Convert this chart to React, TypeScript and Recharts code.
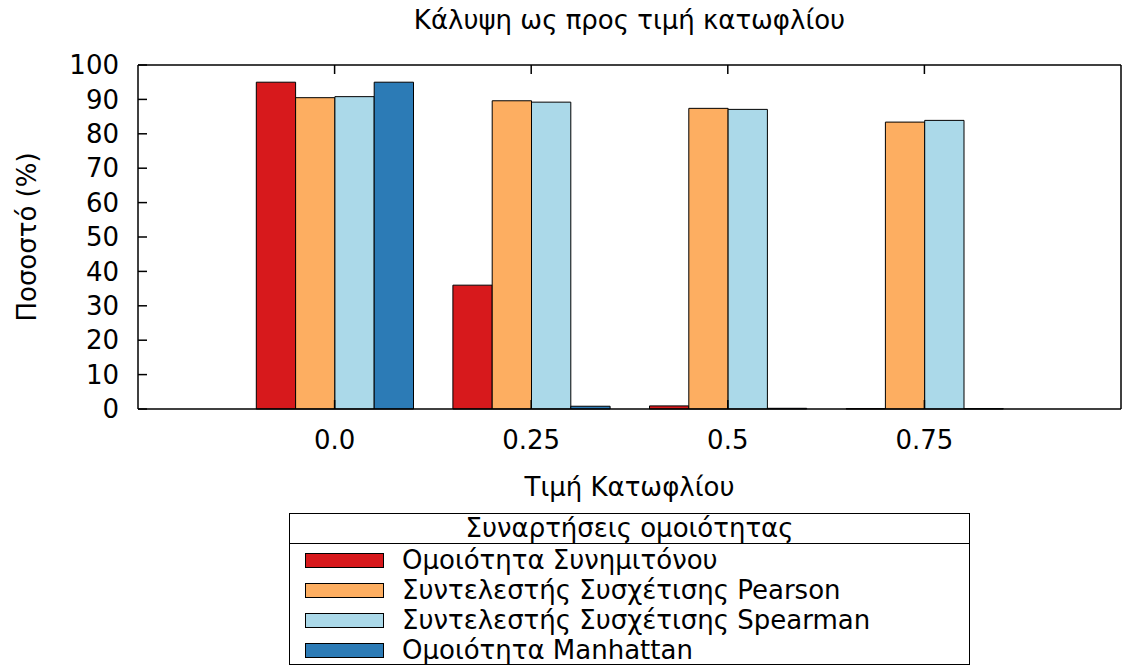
import { BarChart, Bar, XAxis, YAxis } from "recharts";

const THRESHOLDS = ["0.0", "0.25", "0.5", "0.75"];

const COSINE = [95.0, 36.0, 0.9, 0.1];
const PEARSON = [90.5, 89.6, 87.4, 83.4];
const SPEARMAN = [90.8, 89.2, 87.1, 83.9];
const MANHATTAN = [95.0, 0.8, 0.2, 0.1];

const Y_TICKS = [0, 10, 20, 30, 40, 50, 60, 70, 80, 90, 100];

const SERIES = [
  { key: "cosine", name: "Ομοιότητα Συνημιτόνου", color: "#d7191c", values: COSINE },
  { key: "pearson", name: "Συντελεστής Συσχέτισης Pearson", color: "#fdae61", values: PEARSON },
  { key: "spearman", name: "Συντελεστής Συσχέτισης Spearman", color: "#abd9e9", values: SPEARMAN },
  { key: "manhattan", name: "Ομοιότητα Manhattan", color: "#2c7bb6", values: MANHATTAN },
];

const data = THRESHOLDS.map((threshold, i) => {
  const row: Record<string, string | number> = { threshold };
  SERIES.forEach((s) => {
    row[s.key] = s.values[i];
  });
  return row;
});

const FONT = "'DejaVu Sans', sans-serif";
const FONT_SIZE = 26;
const TICK_STYLE = { fill: "#000", fontSize: FONT_SIZE, fontFamily: FONT };
const AXIS_LINE = { stroke: "#000", strokeWidth: 1.5 };

function LegendBox() {
  return (
    <div
      style={{
        position: "absolute",
        left: 289,
        top: 513,
        width: 681,
        height: 152,
        boxSizing: "border-box",
        border: "1px solid #000",
        fontFamily: FONT,
        fontSize: FONT_SIZE,
        color: "#000",
        background: "#fff",
      }}
    >
      <div
        style={{
          height: 29,
          lineHeight: "29px",
          textAlign: "center",
          borderBottom: "1px solid #000",
        }}
      >
        Συναρτήσεις ομοιότητας
      </div>
      <div style={{ paddingTop: 1 }}>
        {SERIES.map((s) => (
          <div
            key={s.key}
            style={{ height: 30, display: "flex", alignItems: "center" }}
          >
            <div
              style={{
                marginLeft: 15,
                width: 79,
                height: 15,
                boxSizing: "border-box",
                border: "1px solid #000",
                background: s.color,
              }}
            />
            <span style={{ marginLeft: 18, lineHeight: "30px" }}>{s.name}</span>
          </div>
        ))}
      </div>
    </div>
  );
}

export default function App() {
  return (
    <div
      style={{
        position: "fixed",
        left: 0,
        top: 0,
        width: 1124,
        height: 666,
        background: "#fff",
        fontFamily: FONT,
      }}
    >
      <div
        style={{
          position: "absolute",
          left: 138,
          top: 7,
          width: 983,
          textAlign: "center",
          fontSize: FONT_SIZE,
          lineHeight: `${FONT_SIZE}px`,
          color: "#000",
        }}
      >
        Κάλυψη ως προς τιμή κατωφλίου
      </div>
      <BarChart
        width={1124}
        height={666}
        data={data}
        margin={{ top: 60, right: 0, bottom: 157, left: 0 }}
        barGap={0}
        barSize={39.3}
      >
        <XAxis
          dataKey="threshold"
          height={100}
          padding={{ left: 98.3, right: 98.3 }}
          tickSize={-9}
          tickMargin={31}
          tick={TICK_STYLE}
          tickLine={AXIS_LINE}
          axisLine={AXIS_LINE}
          label={{
            value: "Τιμή Κατωφλίου",
            position: "insideBottom",
            offset: 13,
            fill: "#000",
            fontSize: FONT_SIZE,
            fontFamily: FONT,
          }}
        />
        <XAxis
          xAxisId="top"
          dataKey="threshold"
          orientation="top"
          height={5}
          padding={{ left: 98.3, right: 98.3 }}
          tickSize={-9}
          tickFormatter={() => ""}
          tickLine={AXIS_LINE}
          axisLine={AXIS_LINE}
        />
        <YAxis
          width={138}
          domain={[0, 100]}
          ticks={Y_TICKS}
          interval={0}
          tickSize={-9}
          tickMargin={28}
          tick={TICK_STYLE}
          tickLine={AXIS_LINE}
          axisLine={AXIS_LINE}
          label={{
            value: "Ποσοστό (%)",
            angle: -90,
            position: "insideLeft",
            offset: 27,
            fill: "#000",
            fontSize: FONT_SIZE,
            fontFamily: FONT,
            style: { textAnchor: "middle" },
          }}
        />
        <YAxis
          yAxisId="right"
          orientation="right"
          width={3}
          domain={[0, 100]}
          ticks={Y_TICKS}
          interval={0}
          tickSize={-9}
          tickFormatter={() => ""}
          tickLine={AXIS_LINE}
          axisLine={AXIS_LINE}
        />
        {SERIES.map((s) => (
          <Bar
            key={s.key}
            dataKey={s.key}
            name={s.name}
            fill={s.color}
            stroke="#000"
            strokeWidth={1}
            isAnimationActive={false}
          />
        ))}
      </BarChart>
      <LegendBox />
    </div>
  );
}
